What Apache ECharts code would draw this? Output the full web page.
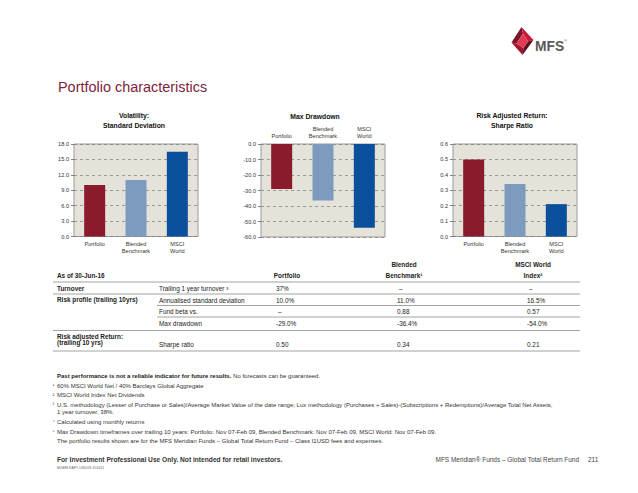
<!DOCTYPE html>
<html><head><meta charset="utf-8">
<script src="https://cdn.jsdelivr.net/npm/echarts@6/dist/echarts.min.js"></script>
<style>html,body{margin:0;padding:0;background:#fff}#c{width:638px;height:493px}</style>
</head><body><div id="c"></div>
<script>
// ---------- data ----------
const categories = ['Portfolio', 'Blended\nBenchmark', 'MSCI\nWorld'];
const volatility = [10.0, 11.0, 16.5];
const maxDrawdown = [-29.0, -36.4, -54.0];
const sharpeRatio = [0.50, 0.34, 0.21];
const barColors = ['#8a1b2d', '#7d9bbf', '#0b509a'];
const volAxis = {min: 0, max: 18, interval: 3};
const ddAxis = {min: -60, max: 0, interval: 10};
const srAxis = {min: 0, max: 0.6, interval: 0.1};
const chartTitles = [['Volatility:', 'Standard Deviation'], ['Max Drawdown'], ['Risk Adjusted Return:', 'Sharpe Ratio']];

const tableAsOf = 'As of 30-Jun-16';
const tableHeaders = [['Portfolio'], ['Blended', 'Benchmark¹'], ['MSCI World', 'Index²']];
const groupLabels = [['Turnover'], ['Risk profile (trailing 10yrs)'], [], [], ['Risk adjusted Return:', '(trailing 10 yrs)']];
const metricNames = ['Trailing 1 year turnover ³', 'Annualised standard deviation', 'Fund beta vs.', 'Max drawdown', 'Sharpe ratio'];
const portfolioValues = ['37%', '10.0%', '–', '-29.0%', '0.50'];
const blendedValues = ['–', '11.0%', '0.88', '-36.4%', '0.34'];
const msciValues = ['–', '16.5%', '0.57', '-54.0%', '0.21'];

const footMarks = ['', '¹', '²', '³', '', '⁴', '⁵', ''];
const footLines = [
  '{b|Past performance is not a reliable indicator for future results.} No forecasts can be guaranteed.',
  '60% MSCI World Net / 40% Barclays Global Aggregate',
  'MSCI World Index Net Dividends',
  'U.S. methodology (Lesser of Purchase or Sales)/Average Market Value of the date range; Lux methodology (Purchases + Sales)-(Subscriptions + Redemptions)/Average Total Net Assets,',
  '1 year turnover, 38%.',
  'Calculated using monthly returns',
  'Max Drawdown timeframes over trailing 10 years: Portfolio: Nov 07-Feb 09, Blended Benchmark: Nov 07-Feb 09, MSCI World: Nov 07-Feb 09.',
  'The portfolio results shown are for the MFS Meridian Funds – Global Total Return Fund – Class I1USD fees and expenses.'
];
const pageTitle = 'Portfolio characteristics';
const footerLeft = 'For Investment Professional Use Only. Not intended for retail investors.';
const footerCode = 'MGEM-RAFT-USDUS-201621';
const footerRight = 'MFS Meridian® Funds – Global Total Return Fund';
const pageNumber = '211';

// ---------- layout ----------
const FONT = 'Liberation Sans, Arial, Helvetica, sans-serif';
function txt(x, y, text, o) {
  const st = Object.assign({text: text, fill: '#222', fontSize: 6.4, fontFamily: FONT,
    align: 'left', textAlign: 'left', verticalAlign: 'middle', textVerticalAlign: 'middle'}, o || {});
  if (st.align) st.textAlign = st.align;
  if (st.verticalAlign) st.textVerticalAlign = st.verticalAlign;
  const el = {type: 'text', x: x, y: y, silent: true, style: st};
  if (o && o.scaleX) { el.scaleX = o.scaleX; delete st.scaleX; }
  return el;
}
function hline(x1, x2, y, c, w) {
  return {type: 'line', silent: true, shape: {x1: x1, y1: y, x2: x2, y2: y}, style: {stroke: c || '#8c8c8c', lineWidth: w || 0.8}};
}

const grids = [
  {left: 74, top: 144, width: 124, height: 92.5},
  {left: 261, top: 144, width: 124, height: 93},
  {left: 453, top: 144, width: 124, height: 92.5}
];
const gridStyle = {show: true, backgroundColor: '#e4e2d9', borderColor: '#9a9a9a', borderWidth: 1};

const axesY = [volAxis, ddAxis, srAxis];
const seriesData = [volatility, maxDrawdown, sharpeRatio];

const graphics = [];
// page title
graphics.push(txt(58, 87, pageTitle, {fill: '#7d2340', fontSize: 15.2, scaleX: 0.95}));
// logo
graphics.push({type: 'polygon', silent: true, shape: {points: [[521.5, 27], [511.5, 42.5], [516.5, 43.5], [523, 33.5]]}, style: {fill: '#7a1626'}});
graphics.push({type: 'polygon', silent: true, shape: {points: [[521.5, 27], [533.5, 40], [528, 41.5], [523, 33.5]]}, style: {fill: '#c8193a'}});
graphics.push({type: 'polygon', silent: true, shape: {points: [[511.5, 42.5], [522.5, 55], [523.5, 48], [516.5, 43.5]]}, style: {fill: '#a3162f'}});
graphics.push({type: 'polygon', silent: true, shape: {points: [[522.5, 55], [533.5, 40], [528, 41.5], [523.5, 48]]}, style: {fill: '#5e0f1d'}});
graphics.push({type: 'polygon', silent: true, shape: {points: [[516.5, 43.5], [523, 33.5], [528, 41.5], [523.5, 48]]}, style: {fill: '#e23a52'}});
graphics.push(txt(535, 45.5, 'MFS', {fill: '#58595b', fontSize: 15, fontWeight: 'bold', scaleX: 0.92}));
graphics.push(txt(564, 40, '®', {fill: '#58595b', fontSize: 4}));

// chart titles
const titleX = [134, 315, 512];
chartTitles.forEach((lines, i) => {
  const y0 = lines.length === 2 ? 115 : 116;
  lines.forEach((s, j) => graphics.push(txt(titleX[i], y0 + j * 10, s, {fontSize: 6.8, fontWeight: 'bold', align: 'center', fill: '#111'})));
});

// table
const X_GROUP = 57, X_METRIC = 159, X_COL = [276, 397, 527], X_HEAD = [287, 404, 533];
graphics.push(txt(X_GROUP, 275, tableAsOf, {fontWeight: 'bold'}));
tableHeaders.forEach((lines, i) => {
  const n = lines.length;
  lines.forEach((s, j) => graphics.push(txt(X_HEAD[i], 275 - (n - 1 - j) * 11, s, {fontWeight: 'bold', align: 'center'})));
});
const rowY = [288, 300, 311.5, 323, 344];
groupLabels.forEach((lines, i) => {
  if (lines.length === 1) graphics.push(txt(X_GROUP, rowY[i] - (i === 1 ? 0.5 : 0), lines[0], {fontWeight: 'bold'}));
  else if (lines.length === 2) {
    graphics.push(txt(X_GROUP, 336.5, lines[0], {fontWeight: 'bold'}));
    graphics.push(txt(X_GROUP, 342.8, lines[1], {fontWeight: 'bold'}));
  }
});
metricNames.forEach((s, i) => graphics.push(txt(X_METRIC, rowY[i], s)));
[portfolioValues, blendedValues, msciValues].forEach((col, c) => {
  col.forEach((s, i) => graphics.push(txt(X_COL[c] + (s === '–' ? 2 : 0), rowY[i], s)));
});
[282, 294, 330.5, 351].forEach(y => graphics.push(hline(53, 580, y)));
[305.5, 317].forEach(y => graphics.push(hline(157, 580, y)));

// footnotes
const footY = [376, 385.5, 395, 404.5, 411.5, 421.5, 431.5, 441];
footLines.forEach((s, i) => {
  if (footMarks[i]) graphics.push(txt(52.5, footY[i] - 0.5, footMarks[i], {fontSize: 5, fill: '#333'}));
  graphics.push(txt(57, footY[i], s, {fontSize: 6, fill: '#333', rich: {b: {fontSize: 6, fontWeight: 'bold', fill: '#222', fontFamily: FONT}}}));
});
graphics.push(txt(57, 459.5, footerLeft, {fontSize: 7.4, fontWeight: 'bold', fill: '#333', scaleX: 0.9}));
graphics.push(txt(57, 467.5, footerCode, {fontSize: 3.5, fill: '#666'}));
graphics.push(txt(579, 459.5, footerRight, {fontSize: 7.6, fill: '#444', align: 'right', scaleX: 0.85}));
graphics.push(txt(588, 459.5, pageNumber, {fontSize: 6.5, fill: '#444'}));

const option = {
  animation: false,
  backgroundColor: '#ffffff',
  textStyle: {fontFamily: FONT},
  grid: grids.map(g => Object.assign({}, g, gridStyle)),
  xAxis: grids.map((g, i) => ({
    gridIndex: i, type: 'category', data: categories,
    position: i === 1 ? 'top' : 'bottom',
    axisLine: {show: false}, axisTick: {show: false},
    axisLabel: {fontSize: 5.6, color: '#333', lineHeight: 7, margin: i === 1 ? 5 : 3.5, interval: 0, fontFamily: FONT}
  })),
  yAxis: axesY.map((a, i) => ({
    gridIndex: i, type: 'value', min: a.min, max: a.max, interval: a.interval,
    axisLine: {show: false},
    axisTick: {show: true, length: 3, lineStyle: {color: '#666', width: 0.8}},
    axisLabel: {fontSize: 5.6, color: '#333', margin: 5, fontFamily: FONT, formatter: v => v.toFixed(1)},
    splitLine: {show: true, lineStyle: {type: [3, 3], color: '#7a7a7a', width: 0.7}}
  })),
  series: seriesData.map((d, i) => ({
    type: 'bar', xAxisIndex: i, yAxisIndex: i, data: d, barWidth: 21,
    itemStyle: {color: p => barColors[p.dataIndex]}
  })),
  graphic: {elements: graphics}
};
const chart = echarts.init(document.getElementById('c'), null, {renderer: 'svg', width: 638, height: 493});
chart.setOption(option);
</script></body></html>
